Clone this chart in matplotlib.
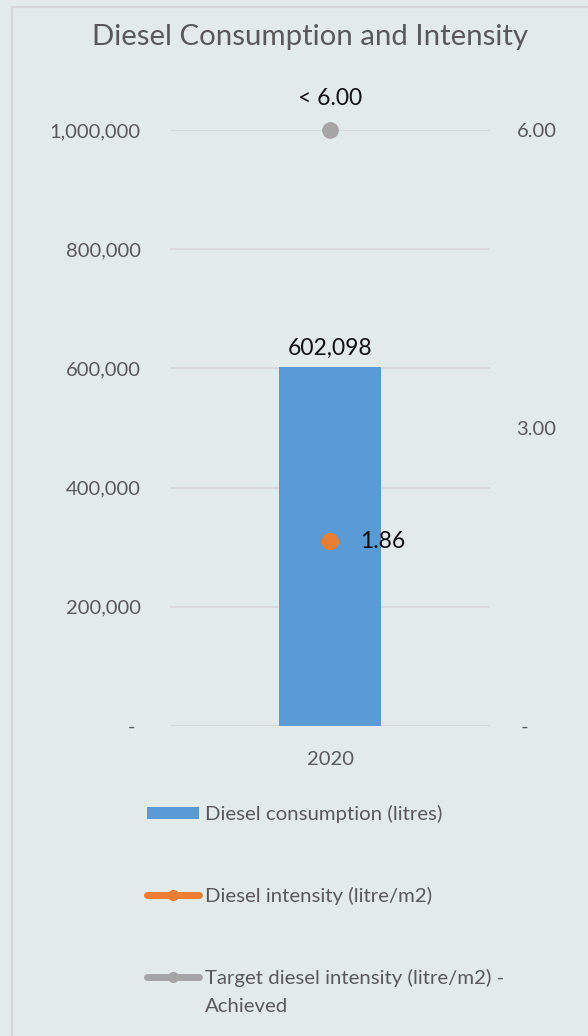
import matplotlib
matplotlib.use("Agg")
from matplotlib import pyplot as plt
from matplotlib.lines import Line2D
from matplotlib.patches import Rectangle, Patch

plt.rcParams['font.family'] = ['Lato', 'DejaVu Sans']

years = ["2020"]
consumption = [602098]
intensity = [1.86]
target = [6.00]

left_ticks = [0, 200000, 400000, 600000, 800000, 1000000]
left_labels = ["- ", "200,000", "400,000", "600,000", "800,000", "1,000,000"]
right_ticks = [0, 3, 6]
right_labels = [" -", "3.00", "6.00"]

BLUE = "#5B9BD5"
ORANGE = "#ED7D31"
GRAY = "#A5A5A5"
TXT = "#595959"
BG = "#e3eaea"

fig = plt.figure(figsize=(5.88, 10.36), dpi=100, facecolor=BG)

# chart border
fig.patches.append(Rectangle((12 / 588, -0.01), 1.0, 1 - 7 / 1036 + 0.01,
                             transform=fig.transFigure, fill=False,
                             edgecolor="#d6d6d6", linewidth=1.6))

ax = fig.add_axes([170 / 588, 310 / 1036, 320 / 588, 596 / 1036])
ax.set_facecolor("none")
ax2 = ax.twinx()

x = range(len(years))
ax.bar(x, consumption, width=0.316, color=BLUE, zorder=2)
ax.set_xlim(-0.5, 0.5)
ax.set_ylim(0, 1000000)
ax.set_yticks(left_ticks)
ax.set_yticklabels(left_labels)
ax.set_xticks(list(x))
ax.set_xticklabels(years)
ax.grid(axis="y", color="#d9d9d9", linewidth=1.5, zorder=0)
ax.set_axisbelow(True)
for s in ax.spines.values():
    s.set_visible(False)
for s in ax2.spines.values():
    s.set_visible(False)
ax.tick_params(axis="both", length=0, labelsize=14.5, labelcolor=TXT)
ax.tick_params(axis="y", pad=21)
ax.tick_params(axis="x", pad=18)

ax2.plot(x, intensity, "o", color=ORANGE, markersize=11.5, zorder=4)
ax2.plot(x, target, "o", color=GRAY, markersize=11, clip_on=False, zorder=4)
ax2.set_ylim(0, 6)
ax2.set_yticks(right_ticks)
ax2.set_yticklabels(right_labels)
ax2.tick_params(axis="y", length=0, labelsize=14.5, labelcolor=TXT, pad=19)

# data labels
for xi, v in zip(x, consumption):
    ax.annotate("{:,}".format(v), (xi, v), xytext=(0, 6), textcoords="offset points",
                ha="center", va="bottom", fontsize=16.5, color="#111111")
for xi, v in zip(x, intensity):
    ax2.annotate("{:.2f}".format(v), (xi, v), xytext=(22, 0), textcoords="offset points",
                 ha="left", va="center", fontsize=16.5, color="#111111")
for xi, v in zip(x, target):
    ax2.annotate("< {:.2f}".format(v), (xi, v), xytext=(0, 15), textcoords="offset points",
                 ha="center", va="bottom", fontsize=16.5, color="#111111", annotation_clip=False)

fig.text(310.5 / 588, 1 - 37 / 1036, "Diesel Consumption and Intensity", ha="center", va="center",
         fontsize=21.2, color=TXT)

handles = [
    Patch(facecolor=BLUE, edgecolor="none"),
    Line2D([], [], color=ORANGE, linewidth=5, marker="o", markersize=7, solid_capstyle="round"),
    Line2D([], [], color=GRAY, linewidth=5, marker="o", markersize=7, solid_capstyle="round"),
]
labels = ["Diesel consumption (litres)", "Diesel intensity (litre/m2)",
          "Target diesel intensity (litre/m2) -"]
leg = fig.legend(handles, labels, loc="upper left", bbox_to_anchor=(147 / 588, 1 - 805 / 1036),
                 frameon=False, fontsize=14.7, handlelength=2.55, handleheight=0.5,
                 handletextpad=0.28, labelspacing=3.12, borderpad=0, borderaxespad=0)
for t in leg.get_texts():
    t.set_color(TXT)

# wrapped second line of the last legend label
fig.canvas.draw()
bb = leg.get_texts()[-1].get_window_extent().transformed(fig.transFigure.inverted())
fig.text(bb.x0, bb.y0 - 28 / 1036, "Achieved", ha="left", va="bottom",
         fontsize=14.7, color=TXT)

fig.savefig("out.png", dpi=100, facecolor=BG)
